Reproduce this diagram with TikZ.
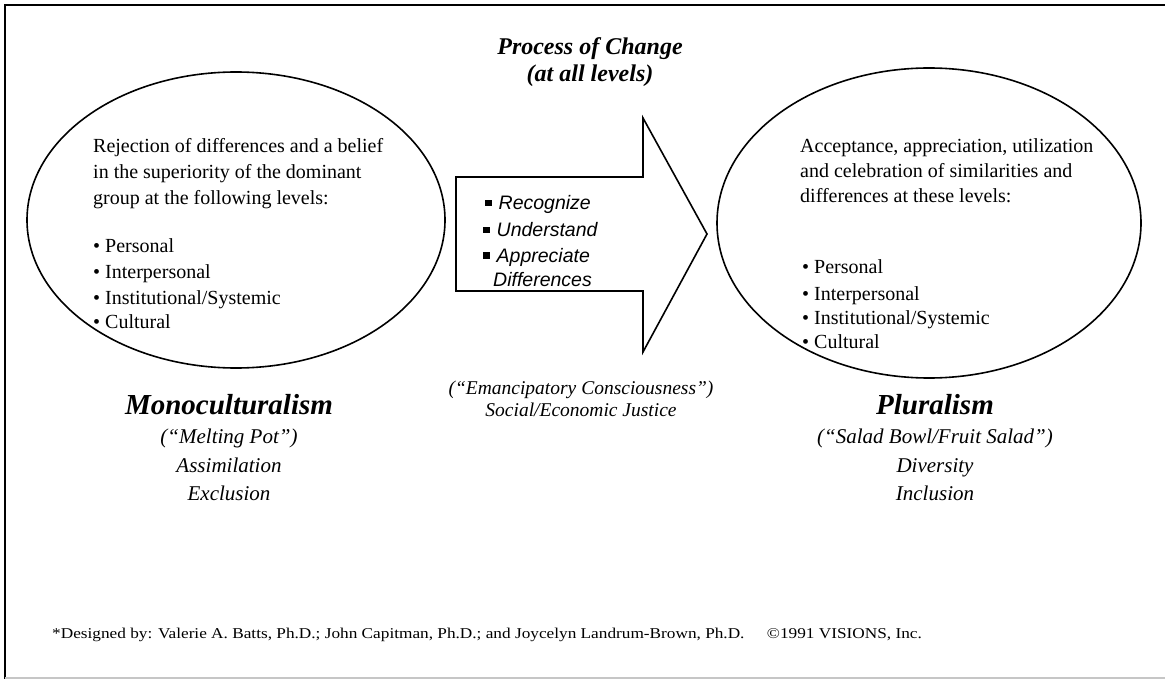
\documentclass[tikz,border=0pt]{standalone}
\usepackage{fontspec}
\setmainfont{Liberation Serif}
\setsansfont{Liberation Sans}
\usetikzlibrary{shapes.geometric}
\newcommand{\sqbul}{\raisebox{3.5pt}{\rule{6.5pt}{6.5pt}}\hspace{7pt}}
\begin{document}
\begin{tikzpicture}[x=1pt,y=-1pt,
  frameline/.style={line width=1.8pt,black},
  oval/.style={ellipse,draw,line width=1.6pt,inner sep=0pt},
  body/.style={anchor=base west,inner sep=0pt,font=\fontsize{20}{22}\selectfont},
  arrtxt/.style={anchor=base west,inner sep=0pt,font=\sffamily\itshape\fontsize{19.5}{21}\selectfont},
  bigtitle/.style={anchor=base,inner sep=0pt,font=\bfseries\itshape\fontsize{29}{31}\selectfont},
  subtxt/.style={anchor=base,inner sep=0pt,font=\itshape\fontsize{21}{23}\selectfont},
  midtxt/.style={anchor=base,inner sep=0pt,font=\itshape\fontsize{19.5}{21}\selectfont},
  toptitle/.style={anchor=base,inner sep=0pt,font=\bfseries\itshape\fontsize{24}{26}\selectfont},
  foot/.style={anchor=base west,inner sep=0pt,font=\fontsize{15}{17}\selectfont}
]
\useasboundingbox (0,0) rectangle (1165,679);
\fill[white] (0,0) rectangle (1165,679);
% frame
\draw[frameline] (1165,5) -- (5,5) -- (5,679);
\draw[gray!45,line width=1.5pt] (5,678) -- (1165,678);

% ellipses
\node[oval,minimum width=418pt,minimum height=296pt] (mono) at (236,220) {};
\node[oval,minimum width=424pt,minimum height=310pt] (plur) at (929,223) {};

% arrow
\draw[line width=1.6pt,line join=miter] (456,177) -- (643,177) -- (643,118) -- (707,234) -- (643,352) -- (643,291) -- (456,291) -- cycle;

% title
\node[toptitle] (t1) at (590,55) {Process of Change};
\node[toptitle] (t2) at (590,82) {(at all levels)};

% left ellipse text
\node[body] (l1) at (93,153) {Rejection of differences and a belief};
\node[body] (l2) at (93,179) {in the superiority of the dominant};
\node[body] (l3) at (93,205) {group at the following levels:};
\node[body] (l4) at (93,253) {\textbullet\ Personal};
\node[body] (l5) at (93,278) {\textbullet\ Interpersonal};
\node[body] (l6) at (93,304) {\textbullet\ Institutional/Systemic};
\node[body] (l7) at (93,328) {\textbullet\ Cultural};

% right ellipse text
\node[body] (r1) at (800,153) {Acceptance, appreciation, utilization};
\node[body] (r2) at (800,178) {and celebration of similarities and};
\node[body] (r3) at (800,203) {differences at these levels:};
\node[body] (r4) at (802,273) {\textbullet\ Personal};
\node[body] (r5) at (802,300) {\textbullet\ Interpersonal};
\node[body] (r6) at (802,324) {\textbullet\ Institutional/Systemic};
\node[body] (r7) at (802,348) {\textbullet\ Cultural};

% arrow text
\node[arrtxt] (a1) at (485,210) {\sqbul Recognize};
\node[arrtxt] (a2) at (483,237) {\sqbul Understand};
\node[arrtxt] (a3) at (483,262) {\sqbul Appreciate};
\node[arrtxt] (a4) at (493,287) {Differences};

% lower labels
\node[bigtitle] (m1) at (229,414) {Monoculturalism};
\node[subtxt] (m2) at (229,443) {(“Melting Pot”)};
\node[subtxt] (m3) at (229,472) {Assimilation};
\node[subtxt] (m4) at (229,500) {Exclusion};

\node[bigtitle] (p1) at (935,414) {Pluralism};
\node[subtxt] (p2) at (935,443) {(“Salad Bowl/Fruit Salad”)};
\node[subtxt] (p3) at (935,472) {Diversity};
\node[subtxt] (p4) at (935,500) {Inclusion};

\node[midtxt] (c1) at (581,394) {(“Emancipatory Consciousness”)};
\node[midtxt] (c2) at (581,416) {Social/Economic Justice};

% footer
\node[foot] (f1) at (52,638) {\scalebox{1.15}[1]{*Designed by: Valerie A. Batts, Ph.D.; John Capitman, Ph.D.; and Joycelyn Landrum-Brown, Ph.D.\hspace{1.3em}©1991 VISIONS, Inc.}};
\end{tikzpicture}
\end{document}
